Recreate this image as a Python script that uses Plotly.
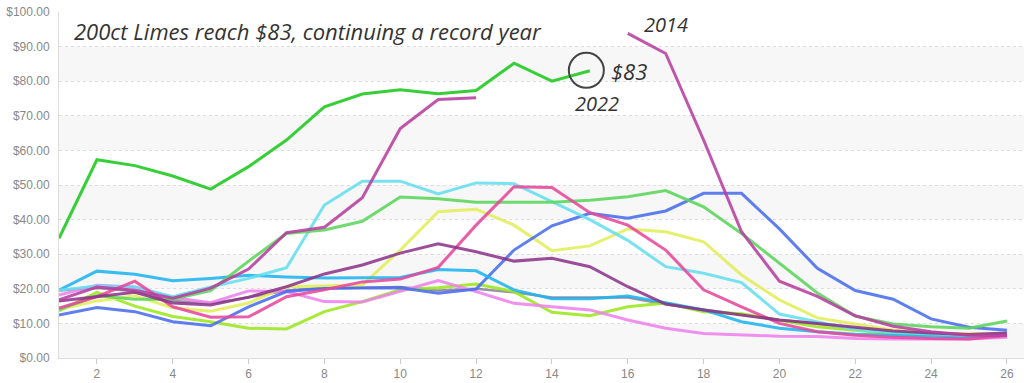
import plotly.graph_objects as go

weeks = list(range(1, 27))

y2022 = [34.6, 57.3, 55.6, 52.6, 48.8, 55.3, 63.0, 72.6, 76.3, 77.5, 76.4, 77.3, 85.2, 80.0, 83.0,
         None, None, None, None, None, None, None, None, None, None, None]
y2014 = [16.8, 20.5, 19.6, 17.3, 20.2, 25.7, 36.2, 37.8, 46.3, 66.3, 74.7, 75.2, None, None, None,
         93.8, 88.0, 63.0, 36.5, 22.2, 17.8, 12.2, 9.2, 7.6, 6.6, 6.5]
y_skyblue = [19.6, 25.1, 24.2, 22.3, 23.0, 23.9, 23.4, 23.1, 23.2, 23.3, 25.6, 25.2, 19.7, 17.1, 17.1,
             17.9, 16.0, 13.9, 10.5, 8.6, 7.6, 6.9, 6.6, 6.3, 6.1, 6.6]
y_cyan = [19.6, 20.8, 20.5, 17.7, 20.5, 23.0, 26.1, 44.2, 51.1, 51.1, 47.4, 50.6, 50.4, 45.2, 40.0,
          34.0, 26.4, 24.5, 21.8, 12.7, 10.5, 8.2, 7.4, 6.9, 6.6, 6.8]
y_green = [14.0, 18.0, 17.0, 17.0, 19.5, 28.0, 36.0, 37.0, 39.5, 46.5, 46.0, 45.0, 45.0, 45.0, 45.6,
           46.6, 48.4, 43.7, 36.0, 27.4, 18.8, 12.1, 9.8, 9.0, 8.6, 10.7]
y_yellow = [14.0, 16.5, 18.0, 14.5, 13.5, 15.9, 20.6, 20.8, 21.1, 31.2, 42.3, 43.0, 38.4, 31.0, 32.4,
            37.3, 36.5, 33.6, 24.0, 16.8, 11.6, 9.8, 8.0, 7.2, 7.0, 7.1]
y_lime = [13.6, 19.0, 15.0, 12.0, 10.5, 8.6, 8.4, 13.4, 16.3, 19.7, 20.3, 21.4, 19.2, 13.2, 12.2,
          14.8, 15.9, 13.4, 12.8, 11.0, 9.0, 8.0, 7.0, 6.6, 6.5, 7.0]
y_pink = [14.4, 17.7, 22.2, 14.8, 11.8, 11.9, 17.7, 19.7, 22.0, 22.8, 26.2, 38.4, 49.5, 49.3, 42.0,
          38.4, 31.2, 19.7, 14.8, 10.0, 7.6, 6.6, 6.0, 5.6, 5.5, 6.5]
y_violet = [18.2, 21.0, 20.5, 17.5, 16.0, 19.4, 19.2, 16.3, 16.2, 19.2, 22.4, 19.2, 15.8, 14.8, 13.9,
            11.0, 8.6, 7.1, 6.6, 6.3, 6.2, 5.6, 5.5, 5.5, 5.5, 6.0]
y_blue = [12.4, 14.6, 13.4, 10.5, 9.3, 14.8, 19.2, 20.1, 20.2, 20.3, 18.7, 19.9, 31.2, 38.2, 41.8,
          40.4, 42.5, 47.6, 47.6, 37.3, 25.9, 19.5, 17.0, 11.3, 8.9, 8.0]
y_purple = [16.5, 17.7, 19.0, 15.9, 15.3, 17.6, 20.6, 24.3, 26.9, 30.3, 33.0, 30.7, 28.0, 28.8, 26.4,
            20.6, 15.6, 13.9, 12.4, 11.0, 10.0, 8.8, 7.8, 7.2, 6.8, 7.2]
y_dark = [19.5, 20.2, 19.3, 16.5, 15.8, 17.5, 19.5, 20.3, 20.3, 20.5, 19.5, 20.0, 19.0, 17.5, 17.5,
          17.5, 15.5, 14.0, 12.5, 11.0, 10.0, 8.5, 7.5, 7.0, 6.5, 7.0]

series = [
    ("dark", y_dark, "#4a3a5a", 2.5, 0.55),
    ("lime", y_lime, "#9be81e", 3, 0.88),
    ("yellow", y_yellow, "#e2ee5a", 3, 0.88),
    ("violet", y_violet, "#ee82ee", 3, 0.88),
    ("blue", y_blue, "#4a6ef0", 3, 0.88),
    ("skyblue", y_skyblue, "#1fb4f0", 3, 0.88),
    ("cyan", y_cyan, "#66dff0", 3, 0.88),
    ("green", y_green, "#5cd65c", 3, 0.88),
    ("pink", y_pink, "#e8489c", 3, 0.88),
    ("purple", y_purple, "#8a3189", 3, 0.85),
    ("2014", y2014, "#b83fa0", 3, 0.88),
    ("2022", y2022, "#2ecc2e", 3, 0.95),
]

fig = go.Figure()
for name, ys, col, w, op in series:
    fig.add_trace(go.Scatter(x=weeks, y=ys, mode="lines", name=name,
                             line=dict(color=col, width=w), opacity=op,
                             connectgaps=False, hoverinfo="skip"))

shapes = []
for lo in [0, 20, 40, 60, 80]:
    shapes.append(dict(type="rect", xref="paper", yref="y", x0=0, x1=1, y0=lo, y1=lo + 10,
                       fillcolor="#f7f7f7", line=dict(width=0), layer="below"))
# circle around last 2022 point
shapes.append(dict(type="circle", xref="x", yref="y", xsizemode="pixel", ysizemode="pixel",
                   xanchor=15, yanchor=83, x0=-21, x1=14, y0=-17, y1=18,
                   line=dict(color="#444444", width=2)))

hand = "Open Sans"
annotations = [
    dict(text="<i>200ct Limes reach $83, continuing a record year</i>", xref="paper", yref="paper",
         x=0.013, y=0.945, xanchor="left", yanchor="middle", showarrow=False,
         font=dict(family=hand, size=22, color="#333333")),
    dict(text="<i>$83</i>", xref="x", yref="y", x=15.5, y=83.0, xanchor="left", yanchor="middle",
         showarrow=False, font=dict(family=hand, size=22, color="#333333")),
    dict(text="<i>2022</i>", xref="x", yref="y", x=15.2, y=73.5, xanchor="center", yanchor="middle",
         showarrow=False, font=dict(family=hand, size=20, color="#333333")),
    dict(text="<i>2014</i>", xref="x", yref="y", x=17.0, y=96.5, xanchor="center", yanchor="middle",
         showarrow=False, font=dict(family=hand, size=20, color="#333333")),
]

fig.update_layout(
    width=1024, height=383,
    margin=dict(l=59, r=0, t=12, b=25),
    plot_bgcolor="white", paper_bgcolor="white",
    showlegend=False,
    shapes=shapes, annotations=annotations,
    xaxis=dict(range=[1, 26.45], tickvals=list(range(2, 27, 2)), showgrid=False,
               ticks="outside", ticklen=5, tickcolor="#cccccc",
               showline=True, linecolor="#dddddd", linewidth=1, zeroline=False,
               tickfont=dict(family="Arial", size=12, color="#888888")),
    yaxis=dict(range=[0, 100], dtick=10, tickprefix="$", tickformat=".2f",
               showgrid=True, gridcolor="#dddddd", griddash="dot", gridwidth=1,
               showline=True, linecolor="#dddddd", zeroline=False,
               ticks="", ticklabelstandoff=6,
               tickfont=dict(family="Arial", size=12, color="#888888")),
)

fig.write_html("out.html", config={"displayModeBar": False},
               post_script="document.body.style.margin='0';document.body.style.overflow='hidden';")
